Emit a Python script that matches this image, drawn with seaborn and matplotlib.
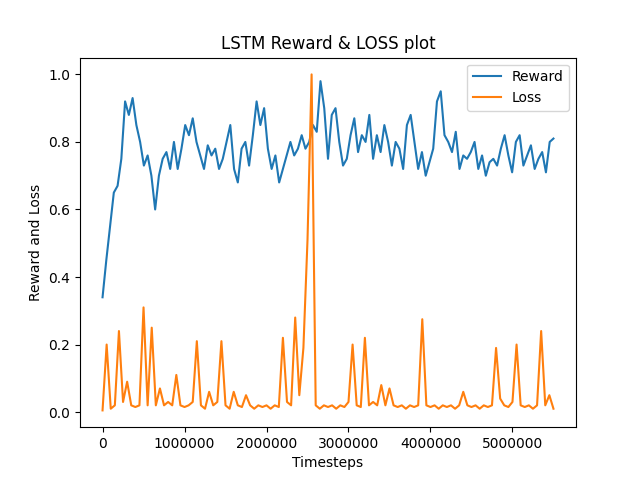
import numpy as np
import pandas as pd
import matplotlib
matplotlib.use("Agg")
import matplotlib.pyplot as plt
import seaborn as sns

reward = [0.34,0.45,0.55,0.65,0.67,0.75,0.92,0.88,0.93,0.85,0.8,0.73,0.76,0.7,0.6,0.7,0.75,0.77,0.72,0.8,
0.72,0.78,0.85,0.82,0.87,0.8,0.76,0.72,0.79,0.76,0.78,0.72,0.75,0.8,0.85,0.72,0.68,0.78,0.8,0.73,
0.82,0.92,0.85,0.9,0.78,0.72,0.76,0.68,0.72,0.76,0.8,0.76,0.78,0.82,0.78,0.8,0.85,0.83,0.98,0.9,
0.75,0.88,0.9,0.8,0.73,0.75,0.82,0.87,0.77,0.82,0.8,0.88,0.75,0.82,0.77,0.85,0.8,0.73,0.8,0.78,
0.72,0.85,0.88,0.8,0.72,0.77,0.7,0.74,0.78,0.92,0.95,0.82,0.8,0.77,0.83,0.72,0.76,0.75,0.77,0.8,
0.72,0.76,0.7,0.74,0.75,0.73,0.78,0.82,0.76,0.71,0.8,0.82,0.73,0.76,0.79,0.72,0.75,0.77,0.71,0.8,0.81]
loss = [0.005,0.2,0.01,0.02,0.24,0.03,0.09,0.02,0.015,0.02,0.31,0.02,0.25,0.02,0.07,0.02,0.03,0.02,0.11,0.02,
0.015,0.02,0.03,0.21,0.02,0.01,0.06,0.02,0.03,0.21,0.02,0.01,0.06,0.02,0.015,0.05,0.02,0.01,0.02,0.015,
0.02,0.01,0.02,0.015,0.22,0.03,0.02,0.28,0.05,0.19,0.51,1.0,0.02,0.01,0.02,0.015,0.02,0.01,0.02,0.015,
0.03,0.2,0.02,0.015,0.22,0.02,0.03,0.02,0.08,0.02,0.07,0.02,0.015,0.02,0.01,0.02,0.015,0.02,0.275,0.02,
0.015,0.02,0.01,0.02,0.015,0.02,0.01,0.02,0.06,0.02,0.015,0.02,0.01,0.02,0.015,0.02,0.19,0.04,0.02,0.015,
0.03,0.2,0.02,0.015,0.02,0.01,0.02,0.24,0.02,0.05,0.01]

xr = np.linspace(0, 5.5e6, len(reward))
xl = np.linspace(0, 5.5e6, len(loss))

fig, ax = plt.subplots(figsize=(6.4, 4.8), dpi=100)
sns.lineplot(x=xr, y=reward, ax=ax, label="Reward", color="#1f77b4")
sns.lineplot(x=xl, y=loss, ax=ax, label="Loss", color="#ff7f0e")
ax.set_title("LSTM Reward & LOSS plot")
ax.set_xlabel("Timesteps")
ax.set_ylabel("Reward and Loss")
ax.ticklabel_format(style="plain", axis="x")
ax.legend(loc="upper right")
fig.savefig("out.png", dpi=100)
